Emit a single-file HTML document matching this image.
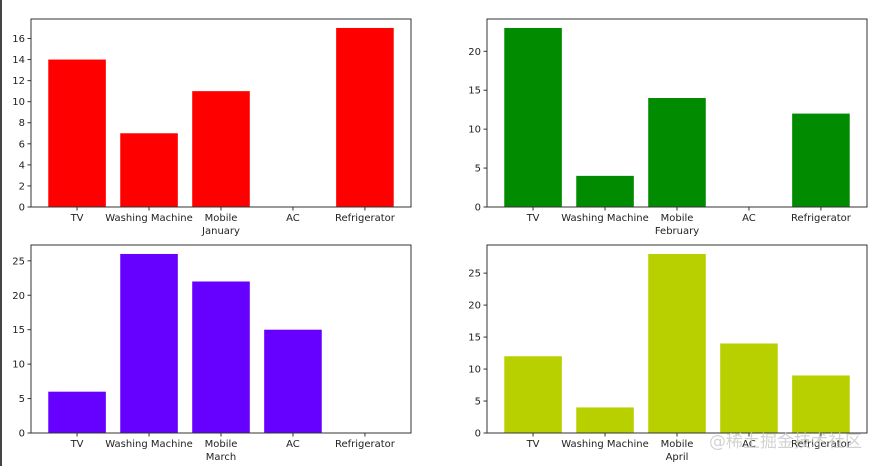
<!DOCTYPE html>
<html><head><meta charset="utf-8"><style>
html,body{margin:0;padding:0;background:#fff;width:886px;height:466px;overflow:hidden}
svg{display:block;font-family:"DejaVu Sans","Liberation Sans","Noto Sans CJK SC",sans-serif}
</style></head><body>
<svg id="chart" width="886" height="466">
<rect x="0" y="0" width="2" height="466" fill="#444"/>
</svg>
<script>
const categories = ["TV","Washing Machine","Mobile","AC","Refrigerator"];
const months = ["January","February","March","April"];
const janValues = [14,7,11,0,17];
const febValues = [23,4,14,0,12];
const marValues = [6,26,22,15,0];
const aprValues = [12,4,28,14,9];
const janTicks = [0,2,4,6,8,10,12,14,16];
const febTicks = [0,5,10,15,20];
const marTicks = [0,5,10,15,20,25];
const aprTicks = [0,5,10,15,20,25];

const NS = "http://www.w3.org/2000/svg";
const svg = document.getElementById("chart");
function mk(tag, attrs, parent){
  const e = document.createElementNS(NS, tag);
  for (const k in attrs) e.setAttribute(k, attrs[k]);
  (parent||svg).appendChild(e);
  return e;
}
const panels = [
  {vals: janValues, ticks: janTicks, color: "#ff0000", x0: 31, x1: 411, y0: 19, y1: 207, m: months[0]},
  {vals: febValues, ticks: febTicks, color: "#008b00", x0: 487, x1: 867, y0: 19, y1: 207, m: months[1]},
  {vals: marValues, ticks: marTicks, color: "#6600ff", x0: 31, x1: 411, y0: 245, y1: 433, m: months[2]},
  {vals: aprValues, ticks: aprTicks, color: "#b8d000", x0: 487, x1: 867, y0: 245, y1: 433, m: months[3]}
];
panels.forEach((p, pi) => {
  const g = mk("g", {});
  
  
  const n = categories.length;
  const xmin = -0.4 - 0.05*(n-1+0.8), xmax = n-1+0.4 + 0.05*(n-1+0.8);
  const ymax = Math.max(...p.vals) * 1.05;
  const xs = v => p.x0 + (v - xmin) / (xmax - xmin) * (p.x1 - p.x0);
  const ys = v => p.y1 - v / ymax * (p.y1 - p.y0);
  p.vals.forEach((v, i) => {
    if (v <= 0) return;
    const r = mk("rect", {x: xs(i-0.4), y: ys(v), width: xs(i+0.4)-xs(i-0.4), height: ys(0)-ys(v), fill: p.color}, g);
    
    
  });
  const frame = mk("rect", {x: p.x0, y: p.y0, width: p.x1-p.x0, height: p.y1-p.y0, fill: "none", stroke: "#333", "stroke-width": 1}, g);
  
  
  p.ticks.forEach(t => {
    const y = ys(t);
    mk("line", {x1: p.x0-3.5, x2: p.x0, y1: y, y2: y, stroke: "#333"}, g);
    const tx = mk("text", {x: p.x0-6, y: y+3.5, "font-size": 10, "text-anchor": "end", fill: "#222"}, g);
    tx.textContent = t;
    
    
  });
  categories.forEach((c, i) => {
    const x = xs(i);
    mk("line", {x1: x, x2: x, y1: p.y1, y2: p.y1+3.5, stroke: "#333"}, g);
    const tx = mk("text", {x: x, y: p.y1+14, "font-size": 10, "text-anchor": "middle", fill: "#222"}, g);
    tx.textContent = c;
    
    
  });
  const xl = mk("text", {x: (p.x0+p.x1)/2, y: p.y1+27, "font-size": 10, "text-anchor": "middle", fill: "#222"}, g);
  xl.textContent = p.m;
  
  
});
const wm = mk("text", {x: 709, y: 447, "font-size": 17, fill: "#c8c8c8", opacity: 0.8});
wm.textContent = "@稀土掘金技术社区";


</script>
</body></html>
